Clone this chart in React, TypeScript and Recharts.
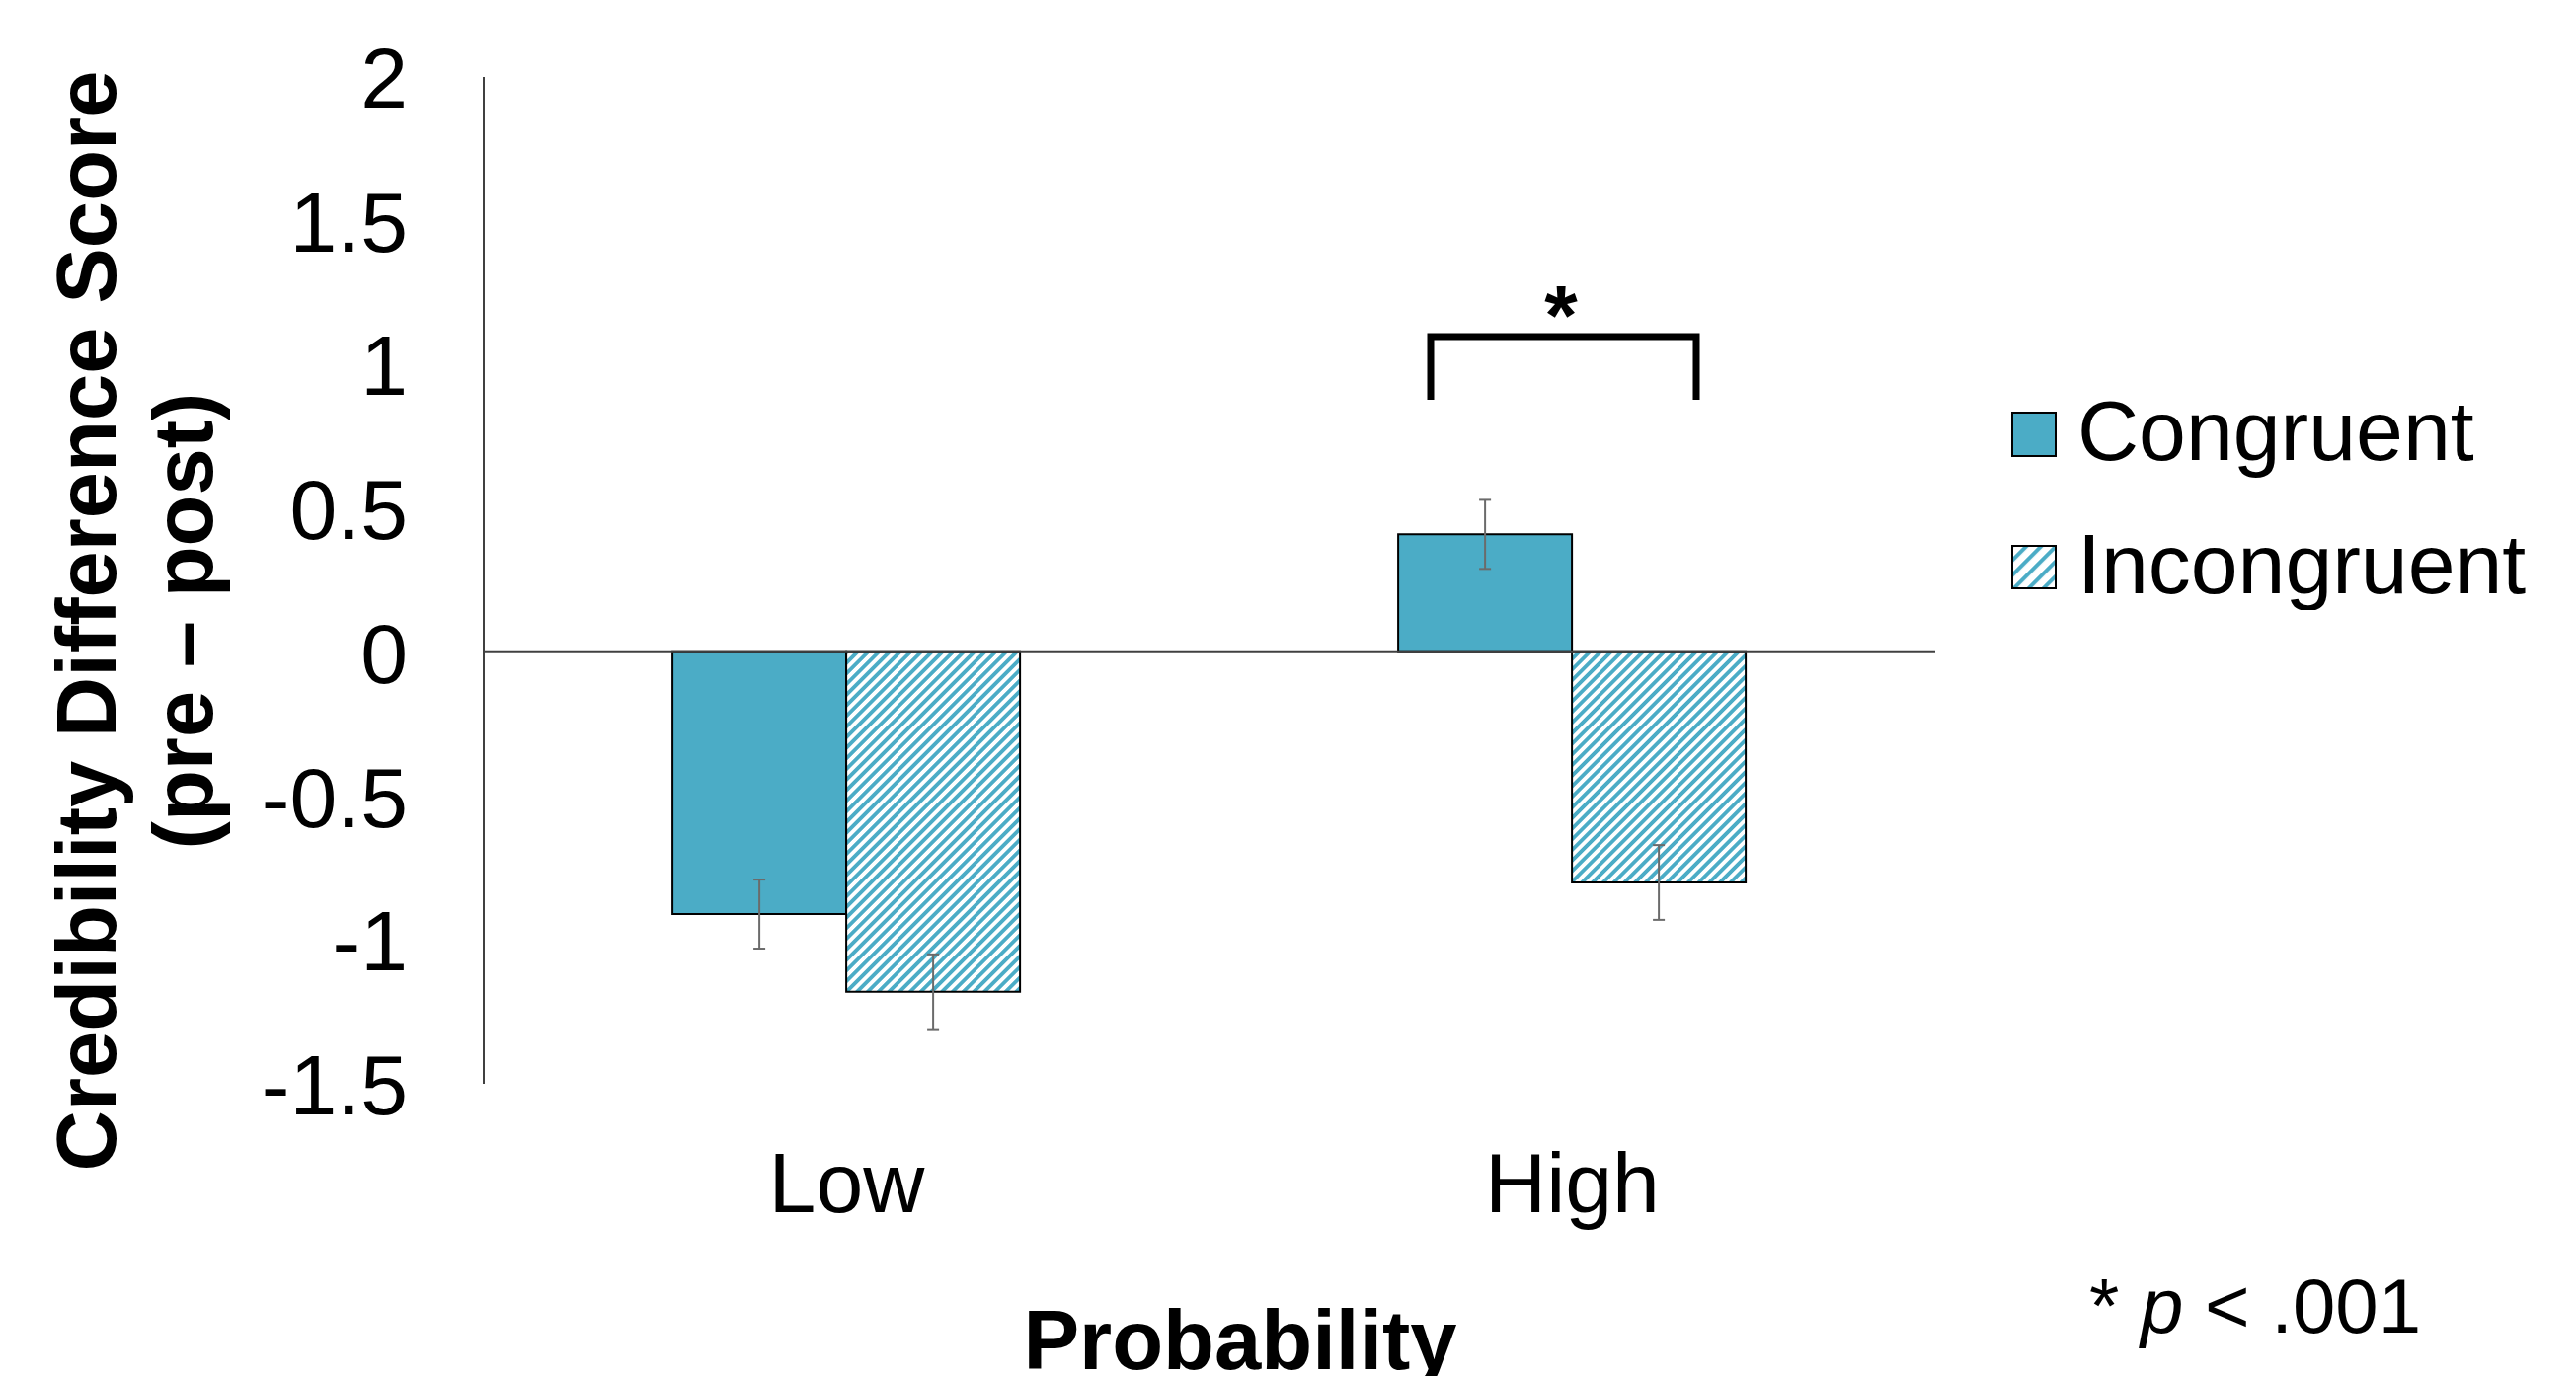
import { BarChart, Bar, XAxis, YAxis, ReferenceLine, ErrorBar, Legend } from 'recharts';

// values
const categories = ['Low', 'High'];
const congruent = [-0.91, 0.41];
const incongruent = [-1.18, -0.8];
const congruentErr = [0.12, 0.12];
const incongruentErr = [0.13, 0.13];
const yTicks = [-1.5, -1, -0.5, 0, 0.5, 1, 1.5, 2];

const data = categories.map((c, i) => ({
  probability: c,
  congruent: congruent[i],
  incongruent: incongruent[i],
  congruentErr: congruentErr[i],
  incongruentErr: incongruentErr[i],
}));

const FONT = '"Liberation Sans", Arial, sans-serif';
const TEAL = '#4BACC6';

if (typeof document !== 'undefined') document.body.style.margin = '0';

function YTick(props: any) {
  return (
    <text x={413} y={props.y} dy="0.36em" textAnchor="end" fontSize={86} fontFamily={FONT} fill="#000">
      {String(props.payload.value)}
    </text>
  );
}

function XTick(props: any) {
  return (
    <text x={props.x} y={1228} textAnchor="middle" fontSize={86} fontFamily={FONT} fill="#000">
      {props.payload.value}
    </text>
  );
}

function LegendBox() {
  return (
    <svg width={571} height={240} style={{ display: 'block' }}>
      <defs>
        <pattern id="hatchSwatch" patternUnits="userSpaceOnUse" width={10.6} height={10.6} patternTransform="rotate(45)">
          <rect width={10.6} height={10.6} fill="#fff" />
          <rect x={0} width={4} height={10.6} fill={TEAL} />
        </pattern>
      </defs>
      <rect x={8} y={40} width={44} height={44} fill={TEAL} stroke="#000" strokeWidth={2} />
      <text x={74} y={88} fontSize={86} fontFamily={FONT} fill="#000">
        Congruent
      </text>
      <rect x={8} y={175} width={44} height={43} fill="url(#hatchSwatch)" stroke="#000" strokeWidth={2} />
      <text x={74} y={223} fontSize={86} fontFamily={FONT} fill="#000">
        Incongruent
      </text>
    </svg>
  );
}

export default function App() {
  return (
    <div style={{ position: 'relative', width: 2609, height: 1394, background: '#fff', fontFamily: FONT }}>
      <BarChart
        width={2609}
        height={1394}
        data={data}
        margin={{ top: 78, right: 649, bottom: 146, left: 0 }}
        barCategoryGap="26%"
        barGap={0}
      >
        <defs>
          <pattern id="hatch" patternUnits="userSpaceOnUse" width={7.6} height={7.6} patternTransform="rotate(45)">
            <rect width={7.6} height={7.6} fill="#fff" />
            <rect x={0} width={3.8} height={7.6} fill={TEAL} />
          </pattern>
        </defs>
        <XAxis dataKey="probability" axisLine={false} tickLine={false} height={150} tick={XTick} interval={0} />
        <YAxis
          domain={[-1.5, 2]}
          ticks={yTicks}
          width={490}
          axisLine={{ stroke: '#404040', strokeWidth: 2 }}
          tickLine={false}
          tick={YTick}
          interval={0}
        />
        <Legend
          layout="horizontal"
          verticalAlign="middle"
          align="center"
          content={() => <LegendBox />}
          wrapperStyle={{ left: 2030, top: 378, width: 571, height: 240 }}
        />
        <Bar dataKey="congruent" fill={TEAL} stroke="#000" strokeWidth={2} isAnimationActive={false}>
          <ErrorBar dataKey="congruentErr" width={6} stroke="#6b6b6b" strokeWidth={2} />
        </Bar>
        <Bar dataKey="incongruent" fill="url(#hatch)" stroke="#000" strokeWidth={2} isAnimationActive={false}>
          <ErrorBar dataKey="incongruentErr" width={6} stroke="#6b6b6b" strokeWidth={2} />
        </Bar>
        <ReferenceLine y={0} stroke="#404040" strokeWidth={2} />
      </BarChart>

      {/* titles and annotations */}
      <svg width={2609} height={1394} style={{ position: 'absolute', left: 0, top: 0, pointerEvents: 'none' }}>
        <g fontFamily={FONT} fontWeight="bold" fontSize={85} fill="#000" textAnchor="middle">
          <text x={117} y={629} transform="rotate(-90, 117, 629)">
            Credibility Difference Score
          </text>
          <text x={215} y={629} transform="rotate(-90, 215, 629)">
            (pre – post)
          </text>
          <text x={1256} y={1387}>Probability</text>
        </g>
        <path d="M1449 405 V341 H1718 V405" fill="none" stroke="#000" strokeWidth={7} />
        <text x={1581} y={349} textAnchor="middle" fontFamily={FONT} fontWeight="bold" fontSize={86}>
          *
        </text>
        <text x={2116} y={1350} fontFamily={FONT} fontSize={78}>
          {'* '}
          <tspan fontStyle="italic">p</tspan>
          {' < .001'}
        </text>
      </svg>
    </div>
  );
}
